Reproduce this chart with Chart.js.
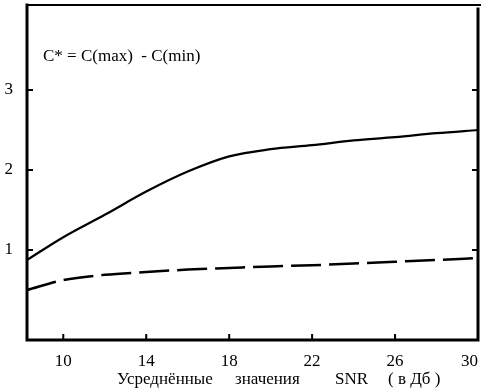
<!DOCTYPE html>
<html>
<head>
<meta charset="utf-8">
<script src="https://cdn.jsdelivr.net/npm/chart.js@4"></script>
<style>
  body { margin: 0; background: #fff; }
  #wrap { width: 482px; height: 390px; }
</style>
</head>
<body>
<div id="wrap"><canvas id="myChart" width="482" height="390"></canvas></div>
<script>
// SNR values (dB) along the x axis
const snr = [8.25, 10, 12, 14, 16, 18, 20, 22, 24, 26, 28, 30];
// upper curve (solid) and lower curve (dashed)
const upperC = [0.875, 1.16, 1.44, 1.73, 1.98, 2.17, 2.26, 2.31, 2.37, 2.41, 2.46, 2.5];
const lowerC = [0.5, 0.625, 0.69, 0.725, 0.755, 0.775, 0.795, 0.81, 0.83, 0.853, 0.875, 0.9];
const xTicks = [10, 14, 18, 22, 26, 30];
const yTicks = [1, 2, 3];
const formula = 'C* = C(max)  - C(min)';
const xTitle = ['Усреднённые', 'значения', 'SNR', '( в Дб )'];

const serif = '"Liberation Serif", "Times New Roman", serif';

const frame = {
  id: 'frame',
  afterDraw(chart) {
    const c = chart.ctx;
    const a = chart.chartArea;
    const xs = chart.scales.x;
    const ys = chart.scales.y;
    c.save();
    c.strokeStyle = '#000';
    c.lineCap = 'square';
    // box
    c.lineWidth = 3;
    c.beginPath();
    c.moveTo(a.left, a.top); c.lineTo(a.left, a.bottom); c.lineTo(a.right, a.bottom); c.lineTo(a.right, a.top + 4);
    c.stroke();
    c.lineWidth = 2;
    c.beginPath();
    c.moveTo(a.left, a.top); c.lineTo(a.right + 2, a.top);
    c.stroke();
    // inward tick marks
    c.lineWidth = 2;
    c.beginPath();
    yTicks.forEach(v => {
      const y = ys.getPixelForValue(v);
      c.moveTo(a.left, y); c.lineTo(a.left + 5, y);
      c.moveTo(a.right, y); c.lineTo(a.right - 5, y);
    });
    xTicks.slice(0, -1).forEach(v => {
      const x = xs.getPixelForValue(v);
      c.moveTo(x, a.bottom); c.lineTo(x, a.bottom - 5);
    });
    c.stroke();
    // x tick labels
    c.fillStyle = '#000';
    c.font = '17px ' + serif;
    c.textBaseline = 'middle';
    c.textAlign = 'center';
    xTicks.forEach(v => {
      const t = String(v);
      const w = c.measureText(t).width;
      const x = Math.min(xs.getPixelForValue(v), a.right - w / 2);
      c.fillText(t, x, a.bottom + 22);
    });
    // axis title
    c.textAlign = 'left';
    const tx = [117, 235, 335, 388];
    xTitle.forEach((t, i) => c.fillText(t, tx[i], a.bottom + 40));
    // formula
    c.fillText(formula, a.left + 16, a.top + 52);
    c.restore();
  }
};

new Chart(document.getElementById('myChart'), {
  type: 'line',
  data: {
    datasets: [
      {
        label: 'upper',
        data: snr.map((x, i) => ({ x, y: upperC[i] })),
        borderColor: '#000',
        borderWidth: 2.2,
        pointRadius: 0,
        cubicInterpolationMode: 'monotone'
      },
      {
        label: 'lower',
        data: snr.map((x, i) => ({ x, y: lowerC[i] })),
        borderColor: '#000',
        borderWidth: 2.5,
        borderDash: [30, 8],
        pointRadius: 0,
        cubicInterpolationMode: 'monotone'
      }
    ]
  },
  options: {
    responsive: false,
    animation: false,
    layout: { padding: { top: 5, right: 4, left: 0, bottom: 0 } },
    scales: {
      x: {
        type: 'linear',
        min: 8.25,
        max: 30,
        grid: { display: false },
        border: { display: false },
        ticks: { display: false },
        afterFit(s) { s.height = 50; s.paddingLeft = 0; s.paddingRight = 0; }
      },
      y: {
        min: -0.125,
        max: 4.0625,
        grid: { display: false, drawTicks: false },
        border: { display: false },
        afterBuildTicks(s) { s.ticks = yTicks.map(v => ({ value: v })); },
        ticks: {
          color: '#000',
          padding: 14,
          font: { family: serif, size: 17 },
          callback: v => String(v)
        },
        afterFit(s) { s.width = 27; s.paddingTop = 0; s.paddingBottom = 0; }
      }
    },
    plugins: {
      legend: { display: false },
      tooltip: { enabled: false }
    }
  },
  plugins: [frame]
});
</script>
</body>
</html>
